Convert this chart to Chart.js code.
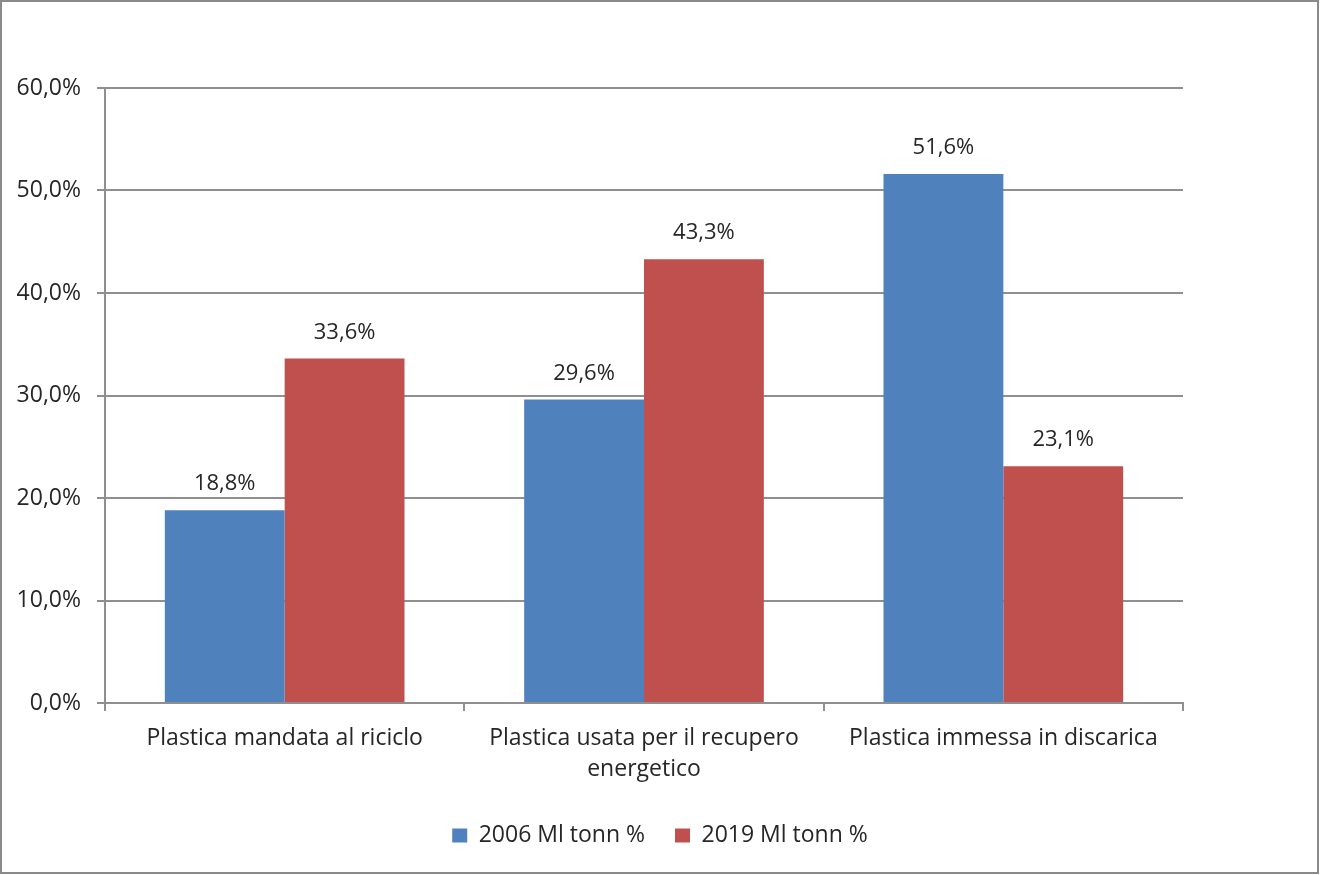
<!DOCTYPE html>
<html>
<head>
<meta charset="utf-8">
<script src="https://cdn.jsdelivr.net/npm/chart.js@4.4.0/dist/chart.umd.min.js"></script>
<style>
  html, body { margin: 0; padding: 0; background: #fff; }
  #wrap { width: 1320px; height: 875px; }
</style>
</head>
<body>
<div id="wrap"><canvas id="myChart"></canvas></div>
<script>
const categorie = [
    'Plastica mandata al riciclo',
    ['Plastica usata per il recupero', 'energetico'],
    'Plastica immessa in discarica'
];
const valori2006 = [18.8, 29.6, 51.6];
const valori2019 = [33.6, 43.3, 23.1];
const serieNomi = ['2006 Ml tonn %', '2019 Ml tonn %'];
const tickMax = 60;
const tickStep = 10;

const fontName = '"Open Sans", sans-serif';
const fontSize = 23;
const grigio = '#8f8f8f';

function formatoPct(v) {
    return v.toFixed(1).replace('.', ',') + '%';
}

// cornice e sfondo
const cornice = {
    id: 'cornice',
    beforeDraw(chart) {
        const c = chart.ctx;
        c.save();
        c.fillStyle = '#fff';
        c.fillRect(0, 0, chart.width, chart.height);
        c.strokeStyle = '#8a8a8a';
        c.lineWidth = 2;
        c.strokeRect(1, 1, chart.width - 3, chart.height - 3);
        c.restore();
    }
};

// etichette sopra le barre
const etichette = {
    id: 'etichette',
    afterDatasetsDraw(chart) {
        const c = chart.ctx;
        c.save();
        c.font = (fontSize - 1) + 'px ' + fontName;
        c.fillStyle = '#262626';
        c.textAlign = 'center';
        c.textBaseline = 'alphabetic';
        chart.data.datasets.forEach((ds, i) => {
            chart.getDatasetMeta(i).data.forEach((bar, j) => {
                c.fillText(formatoPct(ds.data[j]), bar.x, bar.y - 20);
            });
        });
        c.restore();
    }
};

const ctx = document.getElementById('myChart').getContext('2d');
const myChart = new Chart(ctx, {
    type: 'bar',
    data: {
        labels: categorie,
        datasets: [
            {
                label: serieNomi[0],
                data: valori2006,
                backgroundColor: '#4F81BD'
            },
            {
                label: serieNomi[1],
                data: valori2019,
                backgroundColor: '#C0504D'
            }
        ]
    },
    options: {
        responsive: true,
        maintainAspectRatio: false,
        animation: false,
        devicePixelRatio: 1,
        layout: {
            padding: { left: 0, top: 88, right: 0, bottom: 18 }
        },
        datasets: {
            bar: { categoryPercentage: 0.667, barPercentage: 1.0 }
        },
        plugins: {
            legend: {
                position: 'bottom',
                labels: {
                    font: { family: fontName, size: fontSize },
                    color: '#262626',
                    boxWidth: 15,
                    boxHeight: 14,
                    padding: 30
                }
            },
            tooltip: { enabled: false }
        },
        scales: {
            x: {
                afterFit(scale) { scale.height = 91; },
                grid: {
                    offset: true,
                    drawOnChartArea: false,
                    drawTicks: true,
                    tickLength: 8,
                    color: grigio,
                    lineWidth: 2
                },
                border: { color: grigio, width: 2 },
                ticks: {
                    font: { family: fontName, size: fontSize, lineHeight: 1.35 },
                    color: '#262626',
                    padding: 12
                }
            },
            y: {
                min: 0,
                max: tickMax,
                afterFit(scale) { scale.width = 105; },
                grid: {
                    color: grigio,
                    lineWidth: 2,
                    tickLength: 8
                },
                border: { color: grigio, width: 2 },
                ticks: {
                    stepSize: tickStep,
                    font: { family: fontName, size: fontSize },
                    color: '#262626',
                    padding: 16,
                    callback: v => formatoPct(v)
                }
            },
            // spazio vuoto a destra dell'area del grafico
            margineDx: {
                type: 'linear',
                position: 'right',
                afterFit(scale) { scale.width = 137; },
                grid: { display: false },
                border: { display: false },
                ticks: { display: false }
            }
        }
    },
    plugins: [cornice, etichette]
});
</script>
</body>
</html>
